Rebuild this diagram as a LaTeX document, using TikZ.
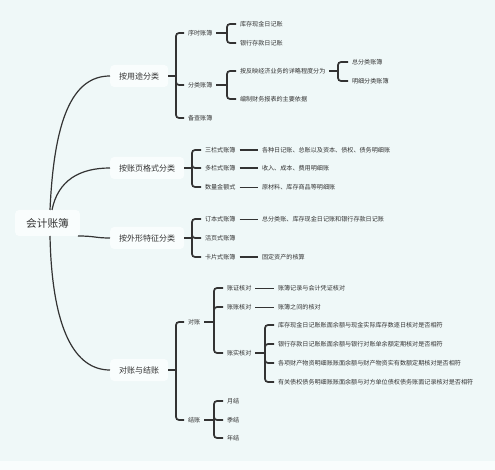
\documentclass[tikz,border=0pt]{standalone}
\usepackage{fontspec}
\setmainfont{Noto Sans CJK SC}
\definecolor{bgc}{HTML}{EFF8F8}
\definecolor{boxc}{HTML}{F9FDFD}
\definecolor{ink}{HTML}{333333}
\begin{document}
\begin{tikzpicture}[x=1pt,y=-1pt,
  rootbox/.style={fill=boxc,rounded corners=4pt,inner xsep=11pt,minimum height=26pt,font=\fontsize{10.7}{12}\selectfont,text=ink},
  topbox/.style={fill=boxc,rounded corners=4pt,anchor=west,inner xsep=9pt,minimum height=22pt,font=\fontsize{8}{10}\selectfont,text=ink},
  item/.style={anchor=west,inner sep=1.5pt,outer sep=2.5pt,font=\fontsize{6.1}{7}\selectfont,text=ink},
  curve/.style={draw=ink,line width=1.2pt},
  br/.style={draw=ink,line width=1.7pt,rounded corners=3pt},
  thickleaf/.style={draw=ink,line width=1.7pt},
  thinleaf/.style={draw=ink,line width=0.8pt}]
\useasboundingbox (0,0) rectangle (495,470);
\fill[bgc] (0,0) rectangle (495,461);
\fill[boxc] (0,461) rectangle (495,470);

% root and first level
\node[rootbox] (root) at (47.5,223) {会计账簿};
\node[topbox] (u) at (110,76) {按用途分类};
\node[topbox] (f) at (110,168) {按账页格式分类};
\node[topbox] (w) at (110,238) {按外形特征分类};
\node[topbox] (d) at (110,370) {对账与结账};

\coordinate (r1) at (50,210);
\coordinate (r2) at (52,210);
\coordinate (r3) at (78,236);
\coordinate (r4) at (50,236);
\draw[curve] (r1) .. controls (54,120) and (72,76) .. (u.west);
\draw[curve] (r2) .. controls (58,180) and (80,168) .. (f.west);
\draw[curve] (r3) .. controls (95,236) and (95,238) .. (w.west);
\draw[curve] (r4) .. controls (52,330) and (75,370) .. (d.west);

% group: 按用途分类
\coordinate (bu) at (176,76);
\node[item] (u1) at (184,33) {序时账簿};
\node[item] (u2) at (184,85) {分类账簿};
\node[item] (u3) at (184,118) {备查账簿};
\draw[br] (u.east) -- (bu);
\foreach \c in {u1,u2,u3} \draw[br] (bu) |- (\c.west);

\coordinate (bu1) at (227,33);
\node[item] (u11) at (236,24) {库存现金日记账};
\node[item] (u12) at (236,43) {银行存款日记账};
\draw[br] (u1.east) -- (bu1);
\foreach \c in {u11,u12} \draw[br] (bu1) |- (\c.west);

\coordinate (bu2) at (227,85);
\node[item] (u21) at (236,71) {按反映经济业务的详略程度分为};
\node[item] (u22) at (236,99) {编制财务报表的主要依据};
\draw[br] (u2.east) -- (bu2);
\foreach \c in {u21,u22} \draw[br] (bu2) |- (\c.west);

\coordinate (bu21) at (338,71);
\node[item] (u211) at (348,62) {总分类账簿};
\node[item] (u212) at (348,81) {明细分类账簿};
\draw[br] (u21.east) -- (bu21);
\foreach \c in {u211,u212} \draw[br] (bu21) |- (\c.west);

% group: 按账页格式分类
\coordinate (bf) at (192,168);
\node[item] (f1) at (201,150) {三栏式账簿};
\node[item] (f2) at (201,168) {多栏式账簿};
\node[item] (f3) at (201,187) {数量金额式};
\draw[br] (f.east) -- (bf);
\foreach \c in {f1,f2,f3} \draw[br] (bf) |- (\c.west);
\node[item] (f1l) at (258,150) {各种日记账、总账以及资本、债权、债务明细账};
\node[item] (f2l) at (258,168) {收入、成本、费用明细账};
\node[item] (f3l) at (258,187) {原材料、库存商品等明细账};
\draw[thickleaf] (f1.east) -- (f1l.west);
\draw[thickleaf] (f2.east) -- (f2l.west);
\draw[thinleaf] (f3.east) -- (f3l.west);

% group: 按外形特征分类
\coordinate (bw) at (192,238);
\node[item] (w1) at (201,219) {订本式账簿};
\node[item] (w2) at (201,238) {活页式账簿};
\node[item] (w3) at (201,257) {卡片式账簿};
\draw[br] (w.east) -- (bw);
\foreach \c in {w1,w2,w3} \draw[br] (bw) |- (\c.west);
\node[item] (w1l) at (258,219) {总分类账、库存现金日记账和银行存款日记账};
\node[item] (w3l) at (258,257) {固定资产的核算};
\draw[thinleaf] (w1.east) -- (w1l.west);
\draw[thickleaf] (w3.east) -- (w3l.west);

% group: 对账与结账
\coordinate (bd) at (176,370);
\node[item] (d1) at (184,322) {对账};
\node[item] (d2) at (184,420) {结账};
\draw[br] (d.east) -- (bd);
\foreach \c in {d1,d2} \draw[br] (bd) |- (\c.west);

\coordinate (bd1) at (214,322);
\node[item] (d11) at (223,288) {账证核对};
\node[item] (d12) at (223,307) {账账核对};
\node[item] (d13) at (223,353) {账实核对};
\draw[br] (d1.east) -- (bd1);
\foreach \c in {d11,d12,d13} \draw[br] (bd1) |- (\c.west);
\node[item] (d11l) at (274,288) {账簿记录与会计凭证核对};
\node[item] (d12l) at (274,307) {账簿之间的核对};
\draw[thinleaf] (d11.east) -- (d11l.west);
\draw[thinleaf] (d12.east) -- (d12l.west);

\coordinate (bd13) at (265,353);
\node[item] (d131) at (274,325) {库存现金日记账账面余额与现金实际库存数逐日核对是否相符};
\node[item] (d132) at (274,344) {银行存款日记账账面余额与银行对账单余额定期核对是否相符};
\node[item] (d133) at (274,363) {各项财产物资明细账账面余额与财产物资实有数额定期核对是否相符};
\node[item] (d134) at (274,382) {有关债权债务明细账账面余额与对方单位债权债务账面记录核对是否相符};
\draw[br] (d13.east) -- (bd13);
\foreach \c in {d131,d132,d133,d134} \draw[br] (bd13) |- (\c.west);

\coordinate (bd2) at (214,420);
\node[item] (d21) at (223,401) {月结};
\node[item] (d22) at (223,420) {季结};
\node[item] (d23) at (223,438) {年结};
\draw[br] (d2.east) -- (bd2);
\foreach \c in {d21,d22,d23} \draw[br] (bd2) |- (\c.west);
\end{tikzpicture}
\end{document}
